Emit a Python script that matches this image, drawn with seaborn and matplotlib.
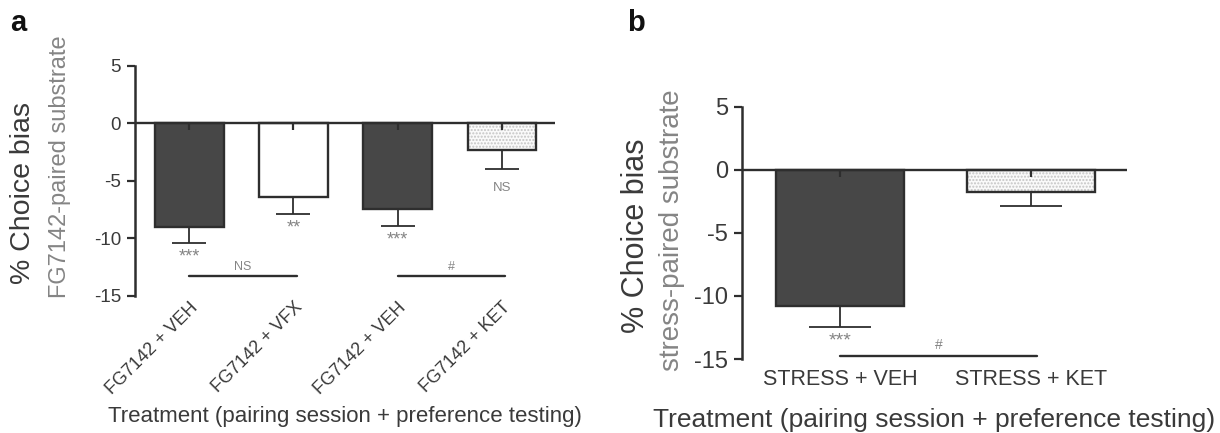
import matplotlib
matplotlib.use("Agg")
import matplotlib.pyplot as plt
import numpy as np
import pandas as pd
import seaborn as sns

sns.set_theme(style="white")
plt.rcParams["font.family"] = ["Liberation Sans", "DejaVu Sans"]
plt.rcParams["hatch.linewidth"] = 1.0

# ---- panel a: FG7142 pairing ----
a_labels = ["FG7142 + VEH", "FG7142 + VFX", "FG7142 + VEH", "FG7142 + KET"]
a_mean = [-9.0, -6.35, -7.4, -2.3]
a_sem = [1.35, 1.55, 1.5, 1.7]
a_fill = ["dark", "white", "dark", "dotted"]
a_sig = ["***", "**", "***", "NS"]
a_sig_y = [-11.6, -9.1, -10.1, -5.6]
a_pairs = [(0, 1, "NS"), (2, 3, "#")]

# ---- panel b: stress pairing ----
b_labels = ["STRESS + VEH", "STRESS + KET"]
b_mean = [-10.8, -1.75]
b_sem = [1.7, 1.1]
b_fill = ["dark", "dotted"]
b_sig = ["***", ""]
b_sig_y = [-13.6, 0]
b_pairs = [(0, 1, "#")]

y_ticks = [5, 0, -5, -10, -15]

DARK = "#474747"
EDGE = "#2e2e2e"
TXT = "#3a3a3a"
GREY = "#858585"
face = {"dark": DARK, "white": "white", "dotted": "#fafafa"}

fig = plt.figure(figsize=(12.2, 4.33), dpi=100)
ax_a = fig.add_axes([0.1107, 0.3164, 0.3443, 0.5312])
ax_b = fig.add_axes([0.6082, 0.1709, 0.3156, 0.5820])


def draw_panel(ax, labels, mean, sem, fill, sig, sig_y, pairs, width,
               cap, fs_tick, fs_sig, pair_y, pair_txt_y, xlim, fs_pair):
    df = pd.DataFrame({"pos": np.arange(len(mean)), "val": mean})
    sns.barplot(data=df, x="pos", y="val", hue="pos",
                palette=[face[f] for f in fill], legend=False,
                width=width, edgecolor=EDGE, linewidth=1.7,
                errorbar=None, saturation=1, ax=ax)
    for p, f in zip(ax.patches, fill):
        if f == "dotted":
            p.set_edgecolor("#c4c4c4")
            p.set_hatch(".....")
            p.set_linewidth(0)
    # crisp outline over the dotted bars
    dotted = [i for i, f in enumerate(fill) if f == "dotted"]
    ax.bar(dotted, [mean[i] for i in dotted], width=width, fill=False,
           edgecolor=EDGE, linewidth=1.7, zorder=3)

    x = np.arange(len(mean))
    ax.errorbar(x, mean, yerr=[sem, [0] * len(sem)], fmt="none",
                ecolor=EDGE, elinewidth=1.3, capsize=cap, capthick=1.3,
                zorder=4)
    # short stub under the baseline at each bar centre
    ax.vlines(x, -0.55, 0, color=EDGE, lw=1.6, zorder=4)

    ax.axhline(0, color=EDGE, lw=1.7, zorder=5)

    for xi, s, yy in zip(x, sig, sig_y):
        if s:
            is_star = s.startswith("*")
            ax.text(xi, yy, s, ha="center", va="center",
                    fontsize=fs_sig if is_star else fs_pair + 0.5,
                    color=GREY)
    for i0, i1, t in pairs:
        ax.plot([i0, i1 + 0.03], [pair_y, pair_y], color=EDGE, lw=1.7,
                clip_on=False, zorder=5)
        ax.text((i0 + i1 + 0.03) / 2, pair_txt_y, t, ha="center",
                va="center", fontsize=fs_pair, color=GREY)

    ax.set_ylim(-15, 5)
    ax.set_xlim(*xlim)
    ax.set_yticks(y_ticks)
    ax.set_yticklabels([str(v) for v in y_ticks])
    ax.set_xticks(x)
    for s in ["top", "right", "bottom"]:
        ax.spines[s].set_visible(False)
    ax.spines["left"].set_color(EDGE)
    ax.spines["left"].set_linewidth(1.8)
    ax.tick_params(axis="y", direction="out", length=6, width=1.6,
                   color=EDGE, labelsize=fs_tick, labelcolor=TXT, pad=4,
                   left=True)
    ax.tick_params(axis="x", length=0, labelcolor=TXT)
    ax.grid(False)
    ax.set_facecolor("none")


draw_panel(ax_a, a_labels, a_mean, a_sem, a_fill, a_sig, a_sig_y, a_pairs,
           width=0.66, cap=12, fs_tick=13.5, fs_sig=13, pair_y=-13.3,
           pair_txt_y=-12.5, xlim=(-0.52, 3.51), fs_pair=9)
draw_panel(ax_b, b_labels, b_mean, b_sem, b_fill, b_sig, b_sig_y, b_pairs,
           width=0.67, cap=22, fs_tick=17, fs_sig=14, pair_y=-14.8,
           pair_txt_y=-13.9, xlim=(-0.513, 1.50), fs_pair=10)

ax_a.set_xticklabels(a_labels, rotation=45, ha="right",
                     rotation_mode="anchor", fontsize=13)
ax_a.tick_params(axis="x", pad=2)
ax_b.set_xticklabels(b_labels, fontsize=15.5)
ax_b.tick_params(axis="x", pad=7)

ax_a.set_xlabel("Treatment (pairing session + preference testing)",
                fontsize=16, color=TXT, va="center")
ax_a.xaxis.set_label_coords(0.5, -0.526)
ax_b.set_xlabel("Treatment (pairing session + preference testing)",
                fontsize=19, color=TXT, va="center")
ax_b.xaxis.set_label_coords(0.5, (16 / 433 - 0.1709) / 0.5820 - 0.01)
ax_a.set_ylabel("")
ax_b.set_ylabel("")

# two-line y titles: main title dark, substrate line grey
fig.text(23 / 1220, 1 - 193 / 433, "% Choice bias", rotation=90,
         ha="center", va="center", fontsize=20.5, color=TXT)
fig.text(60 / 1220, 1 - 167 / 433, "FG7142-paired substrate", rotation=90,
         ha="center", va="center", fontsize=17, color=GREY)
fig.text(636 / 1220, 1 - 236 / 433, "% Choice bias", rotation=90,
         ha="center", va="center", fontsize=22, color=TXT)
fig.text(672 / 1220, 1 - 230 / 433, "stress-paired substrate", rotation=90,
         ha="center", va="center", fontsize=20, color=GREY)

fig.text(10 / 1220, 1 - 9 / 433, "a", ha="left", va="top", fontsize=21,
         fontweight="bold", color="#111111")
fig.text(627 / 1220, 1 - 9 / 433, "b", ha="left", va="top", fontsize=21,
         fontweight="bold", color="#111111")

fig.savefig("out.png", dpi=100, facecolor="white")
